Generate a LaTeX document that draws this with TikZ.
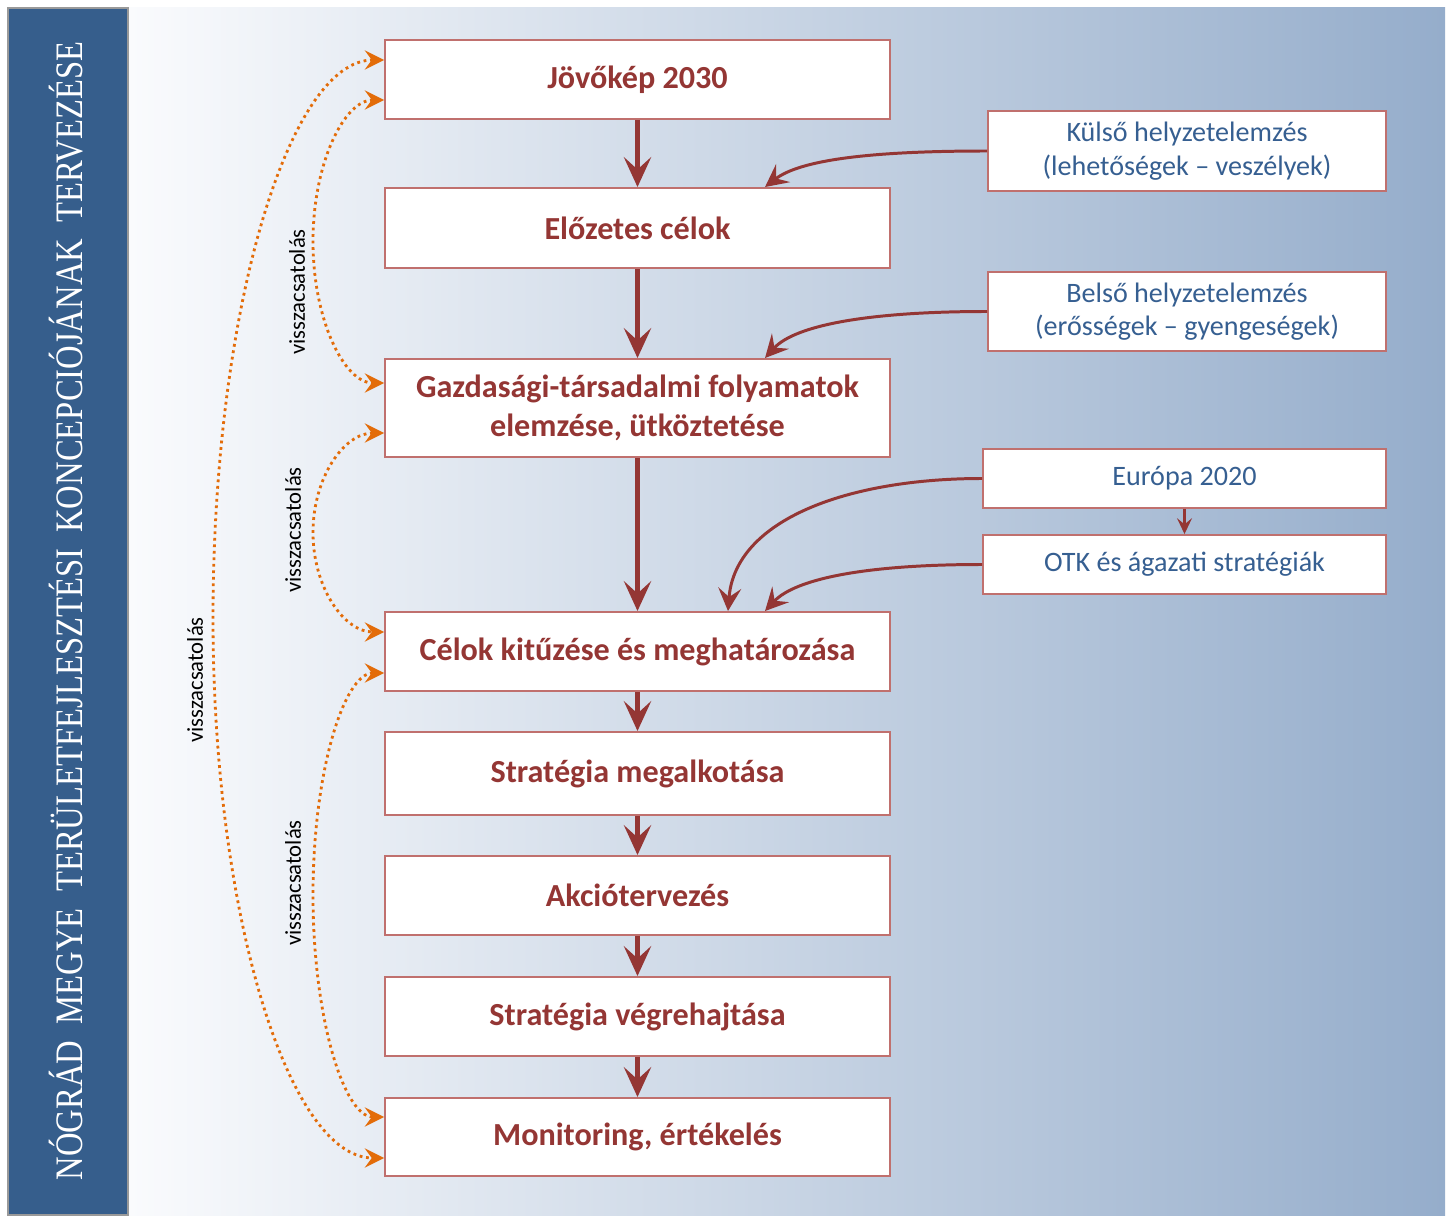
\documentclass[tikz,border=0pt]{standalone}
\usepackage{fontspec}
\setmainfont{Carlito}
\newfontfamily\titlefont{Liberation Serif}
\usetikzlibrary{arrows.meta,calc}
\definecolor{dred}{RGB}{148,54,52}
\definecolor{bordr}{RGB}{192,112,110}
\definecolor{tblue}{RGB}{54,95,145}
\definecolor{barblue}{RGB}{54,94,140}
\definecolor{orng}{RGB}{227,108,9}
\definecolor{bgL}{RGB}{250,251,253}
\definecolor{bgR}{RGB}{149,173,203}
\tikzset{
  mainbox/.style={draw=bordr, line width=1.1pt, fill=white, minimum width=10.1cm, inner sep=0pt,
     font=\fontsize{18.3}{21.8}\selectfont\bfseries, text=dred, align=center},
  sidebox/.style={draw=bordr, line width=1.1pt, fill=white, inner sep=0pt,
     font=\fontsize{16}{19}\selectfont, text=tblue, align=center},
  mainarrow/.style={draw=dred, line width=2.4pt, -{Stealth[length=17pt, width=15.5pt, inset=7pt]}},
  curvearrow/.style={draw=dred, line width=1.7pt, -{Stealth[length=13pt, width=13pt, inset=5pt]}},
  smallarrow/.style={draw=dred, line width=1.3pt, -{Stealth[length=9pt, width=8.5pt, inset=3.5pt]}},
  fb/.style={draw=orng, line width=1.6pt, dash pattern=on 1.6pt off 2.1pt,
     {Stealth[length=11pt, width=11pt, inset=4pt]}-{Stealth[length=11pt, width=11pt, inset=4pt]}},
  fblabel/.style={rotate=90, font=\fontsize{12.9}{14}\selectfont, text=black, inner sep=0pt},
}
\begin{document}
\begin{tikzpicture}[x=0.02cm, y=-0.02cm]
\useasboundingbox (0,0) rectangle (1453,1222);
% background
\shade[left color=bgL, right color=bgR] (128,8) rectangle (1445,1215);
% title bar
\node[draw=gray!80, line width=0.8pt, fill=barblue, minimum width=2.4cm, minimum height=24.14cm, inner sep=0pt] (bar) at (68,611.5) {};
\node[rotate=90, text=white, inner sep=0pt] (title) at (66,611)
  {\resizebox{648pt}{19pt}{\titlefont\fontsize{20}{24}\selectfont N\'OGR\'AD\hspace{0.5em}MEGYE\hspace{0.5em}TER\"ULETFEJLESZT\'ESI\hspace{0.5em}KONCEPCI\'OJ\'ANAK\hspace{0.5em}TERVEZ\'ESE}};
% main boxes
\node[mainbox, minimum height=1.58cm] (b1) at (637.5,79.5) {J\"ov\H{o}k\'ep 2030};
\node[mainbox, minimum height=1.60cm] (b2) at (637.5,228) {El\H{o}zetes c\'elok};
\node[mainbox, minimum height=1.96cm] (b3) at (637.5,408) {Gazdas\'agi-t\'arsadalmi folyamatok\\elemz\'ese, \"utk\"oztet\'ese};
\node[mainbox, minimum height=1.58cm] (b4) at (637.5,651.5) {C\'elok kit\H{u}z\'ese \'es meghat\'aroz\'asa};
\node[mainbox, minimum height=1.66cm] (b5) at (637.5,773.5) {Strat\'egia megalkot\'asa};
\node[mainbox, minimum height=1.58cm] (b6) at (637.5,895.5) {Akci\'otervez\'es};
\node[mainbox, minimum height=1.58cm] (b7) at (637.5,1016.5) {Strat\'egia v\'egrehajt\'asa};
\node[mainbox, minimum height=1.56cm] (b8) at (637.5,1137) {Monitoring, \'ert\'ekel\'es};
% side boxes
\node[sidebox, minimum width=7.96cm, minimum height=1.6cm] (kul) at (1187,151) {K\"uls\H{o} helyzetelemz\'es\\(lehet\H{o}s\'egek -- vesz\'elyek)};
\node[sidebox, minimum width=7.96cm, minimum height=1.58cm] (bel) at (1187,311.5) {Bels\H{o} helyzetelemz\'es\\(er\H{o}ss\'egek -- gyenges\'egek)};
\node[sidebox, minimum width=8.06cm, minimum height=1.18cm] (eur) at (1184.5,478.5) {Eur\'opa 2020};
\node[sidebox, minimum width=8.06cm, minimum height=1.18cm] (otk) at (1184.5,564.5) {OTK \'es \'agazati strat\'egi\'ak};
% main arrows
\draw[mainarrow] (b1) -- (b2);
\draw[mainarrow] (b2) -- (b3);
\draw[mainarrow] (b3) -- (b4);
\draw[mainarrow] (b4) -- (b5);
\draw[mainarrow] (b5) -- (b6);
\draw[mainarrow] (b6) -- (b7);
\draw[mainarrow] (b7) -- (b8);
\draw[smallarrow] (eur) -- (otk);
% curved input arrows
\draw[curvearrow] (kul.west) .. controls +(-118,0) and +(35,-27) .. ($(b2.north)+(127.5,0)$);
\draw[curvearrow] (bel.west) .. controls +(-118,0) and +(30,-33) .. ($(b3.north)+(127.5,0)$);
\draw[curvearrow] (eur.west) .. controls +(-133,0) and +(7,-92) .. ($(b4.north)+(90.5,0)$);
\draw[curvearrow] (otk.west) .. controls +(-118,0) and +(30,-32) .. ($(b4.north)+(127.5,0)$);
% feedback arrows
\coordinate (o1) at (213,618);
\coordinate (i1) at (313,241.5);
\coordinate (i2) at (313,532.5);
\coordinate (i3) at (313,895);
\draw[fb] ($(b1.west)+(0,-19.5)$) .. controls +(-95,0) and +(0,-308) .. (o1)
   .. controls +(0,298) and +(-95,0) .. ($(b8.west)+(0,21)$);
\draw[fb] ($(b1.west)+(0,20.5)$) .. controls +(-40,0) and +(0,-78) .. (i1)
   .. controls +(0,78) and +(-40,0) .. ($(b3.west)+(0,-25)$);
\draw[fb] ($(b3.west)+(0,25)$) .. controls +(-40,0) and +(0,-55) .. (i2)
   .. controls +(0,55) and +(-40,0) .. ($(b4.west)+(0,-19.5)$);
\draw[fb] ($(b4.west)+(0,21.5)$) .. controls +(-40,0) and +(0,-123) .. (i3)
   .. controls +(0,123) and +(-40,0) .. ($(b8.west)+(0,-20)$);
% feedback labels
\node[fblabel] (l1) at (297,292) {visszacsatol\'as};
\node[fblabel] (l2) at (293,530) {visszacsatol\'as};
\node[fblabel] (l3) at (293,883) {visszacsatol\'as};
\node[fblabel] (l4) at (195,680) {visszacsatol\'as};
\end{tikzpicture}
\end{document}
